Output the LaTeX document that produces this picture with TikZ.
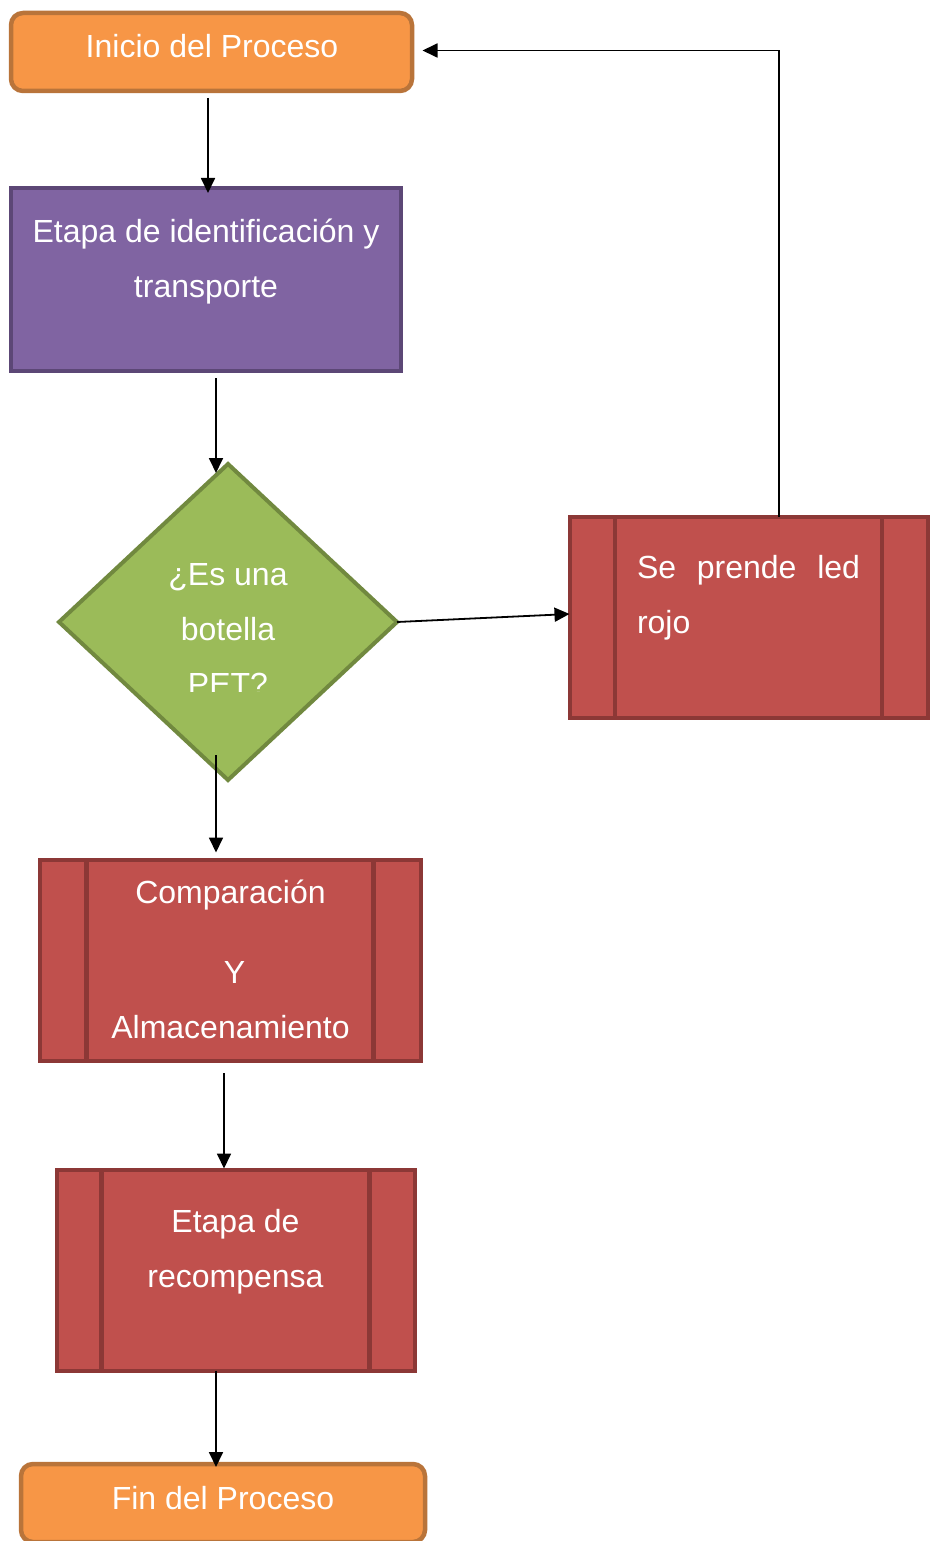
\documentclass[tikz,border=0pt]{standalone}
\usepackage{fontspec}
\setmainfont{Liberation Sans}
\usetikzlibrary{arrows.meta,shapes.geometric,calc}
\definecolor{orangefill}{HTML}{F79646}
\definecolor{orangeline}{HTML}{B9743A}
\definecolor{purplefill}{HTML}{8064A2}
\definecolor{purpleline}{HTML}{5C4776}
\definecolor{greenfill}{HTML}{9BBB59}
\definecolor{greenline}{HTML}{71893F}
\definecolor{redfill}{HTML}{C0504D}
\definecolor{redline}{HTML}{8C3836}
\begin{document}
\begin{tikzpicture}[x=1pt,y=-1pt,
  box/.style={draw, outer sep=0pt, inner sep=0pt, line width=4pt},
  terminal/.style={box, rounded corners=12pt, fill=orangefill, draw=orangeline, line width=4.5pt},
  stagebox/.style={box, fill=purplefill, draw=purpleline, line width=3.5pt},
  decision/.style={box, diamond, fill=greenfill, draw=greenline},
  subproc/.style={box, fill=redfill, draw=redline,
    path picture={\draw[redline, line width=4.5pt]
      ([xshift=#1]path picture bounding box.north west) -- ([xshift=#1]path picture bounding box.south west)
      ([xshift=-#1]path picture bounding box.north east) -- ([xshift=-#1]path picture bounding box.south east);}},
  txt/.style={text=white, font=\fontsize{32}{55}\selectfont, inner sep=0pt, outer sep=0pt},
  arr/.style={-{Triangle[length=15pt,width=14pt]}, line width=1.8pt, black}]

% page
\fill[white] (0,0) rectangle (938,1541);
\useasboundingbox (0,0) rectangle (938,1541);

% shapes
\node[terminal, minimum width=401pt, minimum height=78pt] (inicio) at (211.5,52) {};
\node[stagebox, minimum width=390pt, minimum height=183pt] (ident) at (206,279.5) {};
\node[decision, minimum width=338pt, minimum height=316pt] (dia) at (228,622) {};
\node[subproc=45.5pt, minimum width=358pt, minimum height=201pt] (sepr) at (748.5,617) {};
\node[subproc=47pt, minimum width=381pt, minimum height=201pt] (comp) at (230,960) {};
\node[subproc=45pt, minimum width=358pt, minimum height=201pt] (recomp) at (235.5,1270) {};
\node[terminal, minimum width=404pt, minimum height=78pt] (fin) at (223,1503) {};

% texts (multi-line nodes are placed by the baseline of their last line)
\node[txt, anchor=base] (inicio-t) at (212,58) {Inicio del Proceso};
\node[txt, anchor=base, align=center] (ident-t) at (206,297) {Etapa de identificación y\\transporte};
\begin{scope}
  \clip (0,0) rectangle (938,691);
  \node[txt, anchor=base, align=center] (dia-t) at (228,695) {¿Es una\\botella\\PET?};
\end{scope}
\node[txt, anchor=base west, align=left] (sepr-t) at (637,633) {\makebox[223pt][s]{Se prende led}\\rojo};
\node[txt, anchor=base, align=center] (comp-t) at (230.5,1038) {Comparación\\[25pt]\kern8pt Y\\Almacenamiento};
\node[txt, anchor=base, align=center] (recomp-t) at (235.5,1287) {Etapa de\\recompensa};
\node[txt, anchor=base] (fin-t) at (223,1509) {Fin del Proceso};

% connectors
\draw[arr] ($(inicio.south)+(-3.5,7)$) -- ($(inicio.south |- ident.north)+(-3.5,5)$);
\draw[arr] ($(ident.south)+(10,7)$) -- ($(ident.south |- dia.north)+(10,9)$);
\draw[arr] ($(dia.south)+(-12,-25)$) -- ($(dia.south |- comp.north)+(-12,-7)$);
\draw[arr] (dia.east) -- ($(sepr.west)+(0,-3)$);
\draw[arr] ($(sepr.north)+(30.5,0)$) |- ($(inicio.east)+(10.5,-1.5)$);
\draw[arr] ($(comp.south)+(-6,12.5)$) -- ($(comp.south |- recomp.north)+(-6,-1)$);
\draw[arr] ($(recomp.south)+(-19.5,0)$) -- ($(recomp.south |- fin.north)+(-19.5,3)$);
\end{tikzpicture}
\end{document}
